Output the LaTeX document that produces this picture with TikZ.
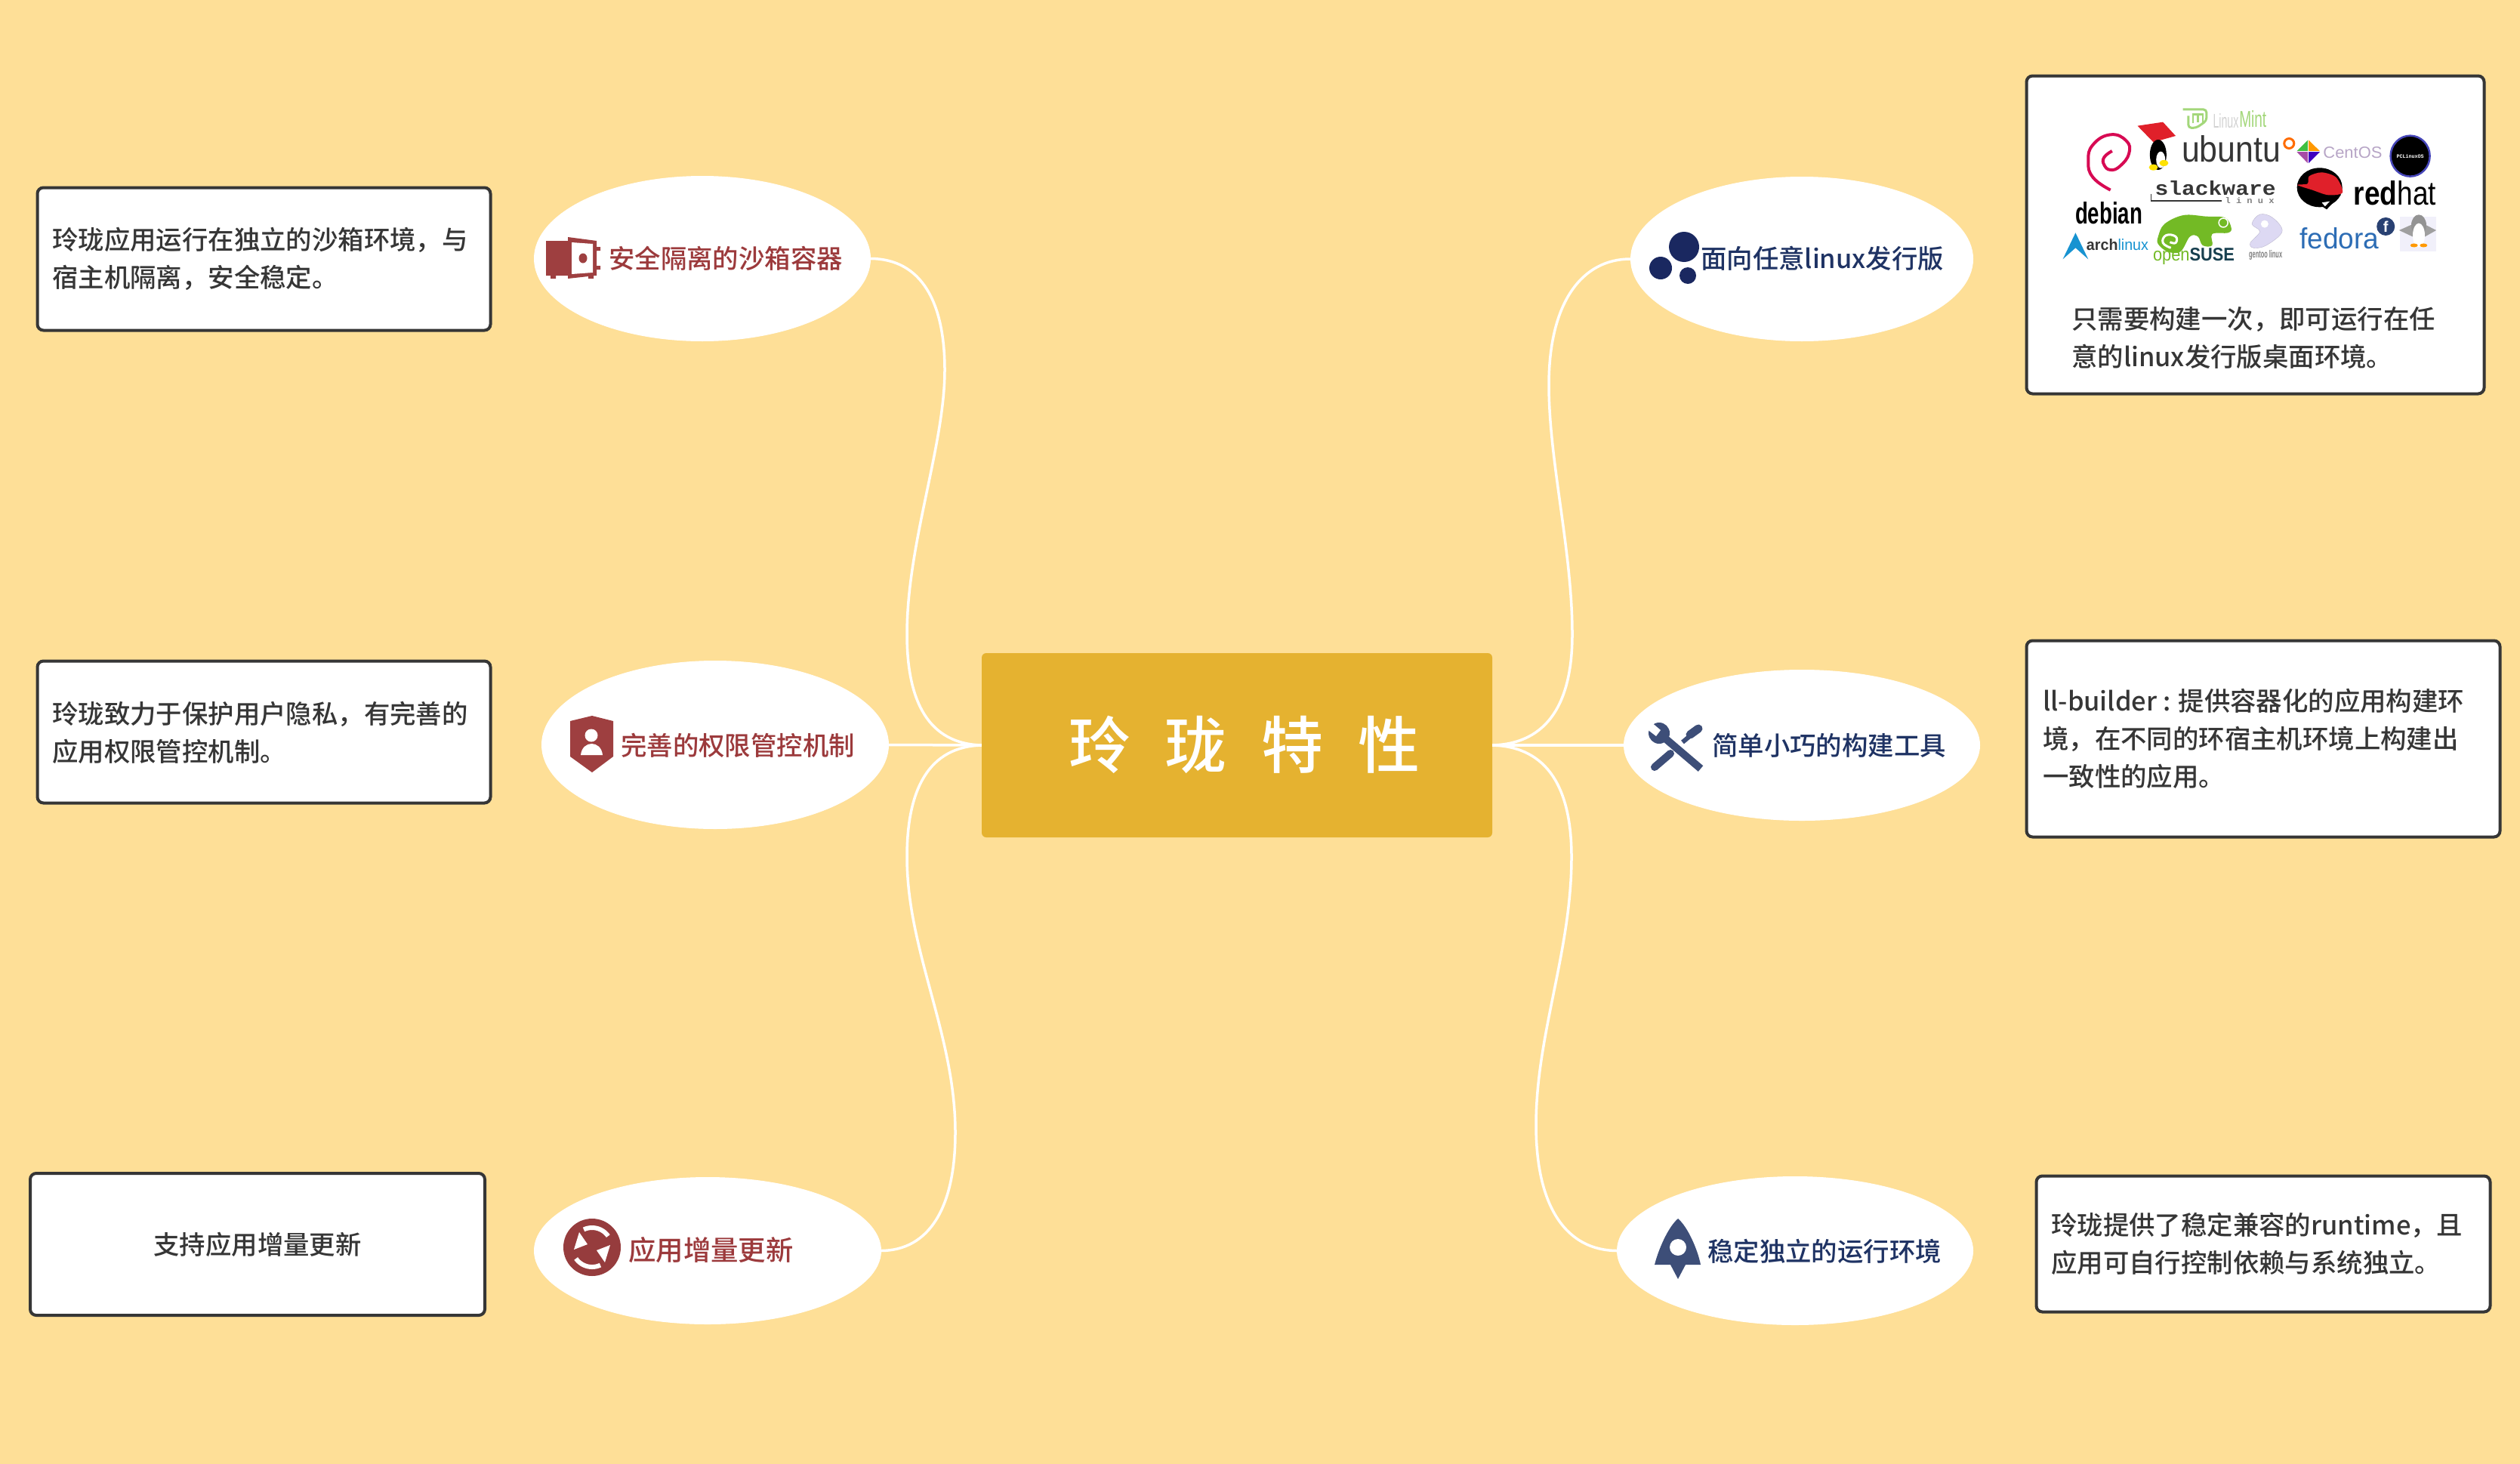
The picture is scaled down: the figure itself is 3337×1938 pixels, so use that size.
\documentclass[tikz,border=0pt]{standalone}
\usepackage{fontspec}
\usepackage{graphicx}
\usetikzlibrary{shapes.geometric}
\setmainfont{Noto Sans CJK SC Medium}
\newfontfamily\logosans{Liberation Sans}
\newfontfamily\logomono{Liberation Mono}
\definecolor{bgc}{HTML}{FEDF97}
\definecolor{corec}{HTML}{E5B230}
\definecolor{redc}{HTML}{9C3A3C}
\definecolor{redicon}{HTML}{9E3F40}
\definecolor{navyc}{HTML}{1F3364}
\definecolor{blueicon}{HTML}{3D4E78}
\definecolor{ballc}{HTML}{1A2860}
\definecolor{bodyc}{HTML}{363636}
\definecolor{mintc}{HTML}{A3D77A}
\definecolor{susec}{HTML}{73BA25}
\definecolor{susedark}{HTML}{173F4F}
\definecolor{archc}{HTML}{1793D1}
\definecolor{fedc}{HTML}{2D6DB5}
\definecolor{fedd}{HTML}{294172}
\definecolor{gentc}{HTML}{DDD9F3}
\definecolor{centt}{HTML}{B7A5C6}
\definecolor{debc}{HTML}{D70A53}
\definecolor{hatc}{HTML}{E0202A}
\tikzset{
  bubble/.style={ellipse,fill=white,draw=white,line width=1pt,inner sep=0pt},
  redlabel/.style={anchor=west,inner sep=0pt,text=redc,font=\fontsize{34.4}{40}\selectfont},
  navylabel/.style={anchor=west,inner sep=0pt,text=navyc,font=\fontsize{34.4}{40}\selectfont},
  descbox/.style={rectangle,fill=white,draw=bodyc,line width=4pt,rounded corners=8pt,inner sep=0pt,text=bodyc,font=\fontsize{34.4}{50}\selectfont},
  desctext/.style={anchor=west,inner sep=0pt,align=left,text=bodyc,font=\fontsize{34.4}{50}\selectfont},
  link/.style={draw=white,line width=3.5pt},
  logotext/.style={inner sep=0pt,anchor=center},
}
\newcommand{\fitlogo}[6]{\node[logotext,text=#5] at (#1) {\resizebox{#2pt}{#3pt}{#4#6}};}
\begin{document}
\begin{tikzpicture}[x=1pt,y=-1pt]
\useasboundingbox (0,0) rectangle (3337,1938);
\fill[bgc] (-6,-6) rectangle (3343,1944);

% centre
\node[rectangle,fill=corec,rounded corners=6pt,minimum width=676pt,minimum height=244pt,inner sep=0pt] (core) at (1638,987) {};
\node[inner sep=0pt,text=white,font=\fontsize{82}{90}\selectfont] (coretext) at (1648,986) {玲\hspace{46pt}珑\hspace{46pt}特\hspace{46pt}性};

% bubbles
\node[bubble,minimum width=445pt,minimum height=218pt] (safe) at (930,342.5) {};
\node[bubble,minimum width=459pt,minimum height=222pt] (perm) at (947,986.5) {};
\node[bubble,minimum width=459pt,minimum height=194pt] (incr) at (937,1656.5) {};
\node[bubble,minimum width=453pt,minimum height=217pt] (distro) at (2386,343) {};
\node[bubble,minimum width=471pt,minimum height=199pt] (tools) at (2386,987) {};
\node[bubble,minimum width=471pt,minimum height=196pt] (stable) at (2377,1656.5) {};

% connectors
\draw[link] (safe.east) .. controls (1220,343) and (1251,400) .. (1251,490) .. controls (1251,590) and (1201,720) .. (1201,840) .. controls (1201,930) and (1230,985) .. (core.west);
\draw[link] (perm.east) -- (core.west);
\draw[link] (incr.east) .. controls (1230,1656) and (1265,1600) .. (1265,1500) .. controls (1265,1370) and (1201,1260) .. (1201,1135) .. controls (1201,1045) and (1230,989) .. (core.west);
\draw[link] (distro.west) .. controls (2095,343) and (2051,400) .. (2051,510) .. controls (2051,610) and (2082,730) .. (2082,840) .. controls (2082,930) and (2050,985) .. (core.east);
\draw[link] (tools.west) -- (core.east);
\draw[link] (stable.west) .. controls (2075,1656) and (2034,1600) .. (2034,1490) .. controls (2034,1370) and (2081,1260) .. (2081,1135) .. controls (2081,1045) and (2050,989) .. (core.east);

% bubble labels
\node[redlabel] (safet) at (806,342) {安全隔离的沙箱容器};
\node[redlabel] (permt) at (822,987) {完善的权限管控机制};
\node[redlabel,font=\fontsize{36.4}{42}\selectfont] (incrt) at (832,1656) {应用增量更新};
\node[navylabel] (distrot) at (2252,342) {面向任意linux发行版};
\node[navylabel] (toolst) at (2267,987) {简单小巧的构建工具};
\node[navylabel] (stablet) at (2261,1657) {稳定独立的运行环境};

% description boxes
\node[descbox,minimum width=600pt,minimum height=189pt] (dsafe) at (349.5,343) {};
\node[desctext] (dsafet) at (69,343) {玲珑应用运行在独立的沙箱环境，与\\宿主机隔离，安全稳定。};
\node[descbox,minimum width=600pt,minimum height=188pt] (dperm) at (349.5,969.5) {};
\node[desctext] (dpermt) at (69,970) {玲珑致力于保护用户隐私，有完善的\\应用权限管控机制。};
\node[descbox,minimum width=602pt,minimum height=188pt] (dincr) at (341,1648) {支持应用增量更新};
\node[descbox,minimum width=606pt,minimum height=421pt] (ddistro) at (2986.5,311) {};
\node[desctext] (ddistrot) at (2743,448) {只需要构建一次，即可运行在任\\意的linux发行版桌面环境。};
\node[descbox,minimum width=627pt,minimum height=260pt] (dtools) at (2997,978.5) {};
\node[desctext] (dtoolst) at (2705,978) {ll-builder : 提供容器化的应用构建环\\境，在不同的环宿主机环境上构建出\\一致性的应用。};
\node[descbox,minimum width=601pt,minimum height=180pt] (dstable) at (2997,1647.5) {};
\node[desctext] (dstablet) at (2716,1647.5) {玲珑提供了稳定兼容的runtime，且\\应用可自行控制依赖与系统独立。};

% icon: safe
\fill[redicon] (723,319)--(752,319)--(752,314)--(790,319)--(790,327)--(795,327)--(795,332)--(790,332)--(790,352)--(795,352)--(795,357)--(790,357)--(790,365)--(786,365)--(786,369)--(779,369)--(779,366)--(752,369)--(752,365)--(736,365)--(736,369)--(729,369)--(729,365)--(723,365)--cycle;
\fill[white] (757,321)--(785,323)--(785,361)--(757,363)--cycle;
\fill[redicon] (772,342) ellipse [x radius=5.5pt,y radius=6.5pt];
% icon: shield
\fill[redicon] (784,948)--(812,955)--(812,1002)--(784,1023)--(755,1002)--(755,955)--cycle;
\fill[white] (783,974) circle [radius=8.5pt];
\fill[white] (769,1000) .. controls (771,980) and (796,980) .. (798,1000) --cycle;
% icon: refresh
\fill[redicon!95!black] (784,1652) circle [radius=38pt];
\draw[white,line width=6pt] plot[domain=35:115,samples=20] ({784+26*cos(\x)},{1652-26*sin(\x)});
\draw[white,line width=6pt] plot[domain=215:295,samples=20] ({784+26*cos(\x)},{1652-26*sin(\x)});
\fill[white] (767,1632)--(760,1655)--(778,1648)--cycle;
\fill[white] (801,1672)--(808,1649)--(790,1656)--cycle;
% icon: balls
\fill[ballc] (2230,327) circle [radius=20pt];
\fill[ballc] (2199,355) circle [radius=15pt];
\fill[ballc] (2235,365) circle [radius=11pt];
% icon: tools
\draw[blueicon,line width=10pt] (2198,972)--(2252,1018);
\fill[blueicon] (2197,971) circle [radius=14pt];
\fill[white] (2186,956)--(2199,967)--(2193,975)--(2180,965)--cycle;
\draw[blueicon,line width=10pt,line cap=round] (2191,1016)--(2212,998);
\draw[blueicon,line width=6pt] (2228,983)--(2240,973);
\draw[blueicon,line width=11pt,line cap=round] (2238,973)--(2249,965);
% icon: rocket
\fill[blueicon] (2222,1614) .. controls (2235,1625) and (2248,1655) .. (2252,1675) -- (2232,1675) -- (2222,1694) -- (2212,1675) -- (2191,1675) .. controls (2196,1655) and (2209,1625) .. (2222,1614) --cycle;
\fill[white] (2222,1652) circle [radius=11pt];

% logos, written in the frame of the magnified box
\begin{scope}[shift={(2660,80)},x=0.4209pt,y=-0.3333pt]
  % debian
  \draw[draw=debc,line width=4pt] plot[smooth,tension=0.8] coordinates {(320,515)(265,465)(250,400)(265,335)(320,295)(370,320)(378,370)(350,420)(320,435)(300,415)(300,385)(325,360)};
  \fitlogo{315,608}{89}{29}{\logosans\bfseries}{black}{debian}
  % tux with flag
  \fill[hatc] (405,260)--(485,245)--(525,300)--(455,325)--cycle;
  \fill[black] (470,375) ellipse [x radius=11pt,y radius=20pt];
  \fill[white] (478,395) ellipse [x radius=6pt,y radius=11pt];
  \fill[yellow!85!orange] (455,425) ellipse [x radius=6pt,y radius=4pt];
  \fill[yellow!85!orange] (488,408) ellipse [x radius=6pt,y radius=4pt];
  % mint
  \draw[mintc,line width=3pt,rounded corners=4pt] (548,195)--(622,195)--(622,240)--(590,268)--(565,268)--(565,220);
  \draw[mintc,line width=2.5pt] (580,250)--(580,215)--(610,215)--(610,250) (595,215)--(595,245);
  \fitlogo{683,240}{34}{19}{\logosans}{gray!35}{Linux}
  \fitlogo{768,233}{36}{22}{\logosans}{mintc}{Mint}
  % ubuntu
  \fitlogo{700,352}{131}{35}{\logosans}{bodyc}{ubuntu}
  \draw[orange!85!red,line width=3pt] (882,330) circle [radius=6.5pt];
  % centos
  \fill[violet!70!white] (905,362)--(942,362)--(942,410)--cycle;
  \fill[green!50!gray] (942,315)--(942,362)--(905,362)--cycle;
  \fill[orange!80!yellow] (942,315)--(980,362)--(942,362)--cycle;
  \fill[blue!50!violet] (980,362)--(942,410)--(942,362)--cycle;
  \draw[white,line width=1.5pt] (905,362)--(980,362) (942,315)--(942,410);
  \fitlogo{1082,365}{78}{15}{\logosans}{centt}{CentOS}
  % black badge
  \fill[black] (1263,380) ellipse [x radius=26pt,y radius=27pt];
  \draw[blue!45!gray,line width=2.5pt] (1263,380) ellipse [x radius=26pt,y radius=27pt];
  \fitlogo{1263,380}{36}{5}{\logomono\bfseries}{white}{PCLinuxOS}
  % slackware
  \fitlogo{650,508}{160}{19}{\logomono\bfseries}{bodyc}{slackware}
  \draw[bodyc,line width=1.5pt] (448,530)--(448,558)--(670,558);
  \fitlogo{758,558}{65}{8}{\logomono\bfseries}{gray}{l i n u x}
  % redhat
  \fill[black] (978,505) ellipse [x radius=30pt,y radius=26pt];
  \fill[black] (950,550)--(1045,535)--(1000,592)--cycle;
  \fill[hatc] plot[smooth cycle,tension=0.5] coordinates {(945,460)(985,445)(1030,465)(1050,525)(1005,535)(955,515)(908,495)(940,490)};
  \fill[white] (985,565)--(1010,560)--(995,580)--cycle;
  \fitlogo{1215,527}{109}{32}{\logosans}{black}{{\bfseries red}hat}
  % arch
  \fill[archc] (170,790)--(210,685)--(250,790)--(210,745)--cycle;
  \fitlogo{342,732}{82}{15}{\logosans}{bodyc}{{\bfseries arch}\textcolor{archc}{linux}}
  % opensuse
  \fill[susec] plot[smooth cycle,tension=0.6] coordinates {(470,700)(490,650)(550,615)(620,620)(680,625)(700,665)(690,685)(640,690)(640,735)(610,735)(595,700)(570,700)(540,760)(500,760)(470,730)};
  \draw[white,line width=3pt] plot[smooth,tension=0.8] coordinates {(510,745)(485,725)(495,695)(525,700)(525,725)(507,722)};
  \draw[white,line width=1.5pt] (675,645) circle [radius=6pt];
  \fitlogo{582,780}{108}{17}{\logosans}{susedark}{\textcolor{susec}{open}{\bfseries SUSE}}
  % gentoo
  \fill[gentc,draw=gentc!85!black] plot[smooth cycle,tension=0.6] coordinates {(765,650)(790,612)(830,625)(860,680)(810,735)(770,745)(760,725)(790,680)};
  \fill[white] (805,650) circle [radius=5pt];
  \fitlogo{808,775}{44}{10}{\logosans\bfseries}{gray}{gentoo linux}
  % fedora
  \fitlogo{1040,708}{105}{28}{\logosans}{fedc}{fedora}
  \fill[fedd] (1186,660) circle [radius=12pt];
  \node[logotext,text=white,font=\logosans\bfseries\fontsize{20}{20}\selectfont] at (1186,660) {f};
  % grey penguin
  \fill[gentc!40!white] (1230,620) rectangle (1345,760);
  \fill[gray!75] (1228,675)--(1290,640)--(1345,675)--(1310,700)--(1270,700)--cycle;
  \fill[gray!85] (1290,655) ellipse [x radius=10pt,y radius=14pt];
  \fill[white] (1290,695) ellipse [x radius=8pt,y radius=16pt];
  \fill[orange!80!yellow] (1275,735) ellipse [x radius=5pt,y radius=2.5pt];
  \fill[orange!80!yellow] (1305,735) ellipse [x radius=5pt,y radius=2.5pt];
\end{scope}
\end{tikzpicture}
\end{document}
